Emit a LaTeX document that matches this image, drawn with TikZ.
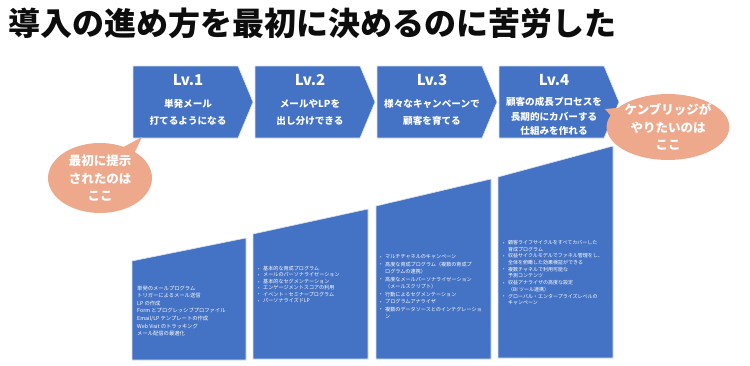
\documentclass[tikz,border=0pt]{standalone}
\usepackage{fontspec}
\setmainfont{Noto Sans CJK JP}
\usetikzlibrary{positioning,calc,shapes.callouts}
\definecolor{lvblue}{HTML}{4472C4}
\definecolor{bubble}{HTML}{EEA98D}
\definecolor{ink}{HTML}{0D0D0D}
\newcommand{\bul}{\makebox[5pt][l]{\raisebox{0.3pt}{\scalebox{0.8}{•}}}}
\newcommand{\cnt}{\hspace*{5pt}}
\tikzset{
  lvshape/.style={fill=lvblue,draw=white!80!lvblue,line width=0.6pt},
  stepfill/.style={fill=lvblue,draw=white!80!lvblue,line width=0.6pt},
  lvtag/.style={text=white,font=\fontsize{15}{15}\selectfont\bfseries,inner sep=0pt},
  lvtext/.style={text=white,align=center,inner sep=0pt,
    font=\fontsize{9.6}{17}\selectfont\bfseries},
  itemlist/.style={text=white,align=left,anchor=north west,inner sep=0pt,
    font=\fontsize{5.1}{7}\selectfont},
  bubble/.style={ellipse callout,fill=bubble,text=white,align=center,inner sep=0pt,
    font=\fontsize{12.5}{17.5}\selectfont\bfseries}
}
\begin{document}
\begin{tikzpicture}[x=1pt,y=-1pt]
 \useasboundingbox[fill=white] (0,0) rectangle (750,365);
 \node[anchor=north west,inner sep=0pt,text=ink,font=\fontsize{32}{32}\selectfont\bfseries] (title) at (8,8) {導入の進め方を最初に決めるのに苦労した};
 % level chevrons
 \fill[lvshape] (133,66) -- ++(105,0) -- ++(15,36) -- ++(-15,36) -- ++(-105,0) -- cycle;
 \fill[lvshape] (255,66) -- ++(105,0) -- ++(15,36) -- ++(-15,36) -- ++(-105,0) -- cycle;
 \fill[lvshape] (377,66) -- ++(105,0) -- ++(15,36) -- ++(-15,36) -- ++(-105,0) -- cycle;
 \fill[lvshape] (499,66) -- ++(105,0) -- ++(15,36) -- ++(-15,36) -- ++(-105,0) -- cycle;
 \node[lvtag] (lv1) at (188,80) {Lv.1};
 \node[lvtag] (lv2) at (310,80) {Lv.2};
 \node[lvtag] (lv3) at (432,80) {Lv.3};
 \node[lvtag] (lv4) at (554,80) {Lv.4};
 \node[lvtext] (lv1t) at (188,112) {単発メール\\打てるようになる};
 \node[lvtext] (lv2t) at (310,112) {メールやLPを\\出し分けできる};
 \node[lvtext] (lv3t) at (432,112) {様々なキャンペーンで\\顧客を育てる};
 \node[lvtext,font=\fontsize{9.6}{14.5}\selectfont\bfseries] (lv4t) at (554,116.5) {顧客の成長プロセスを\\長期的にカバーする\\仕組みを作れる};
 % rising steps
 \fill[stepfill] (132,261) -- (246,238) -- (246,360) -- (132,360) -- cycle;
 \fill[stepfill] (253,234) -- (368,209) -- (368,359) -- (253,359) -- cycle;
 \fill[stepfill] (376,206) -- (491,179) -- (491,359) -- (376,359) -- cycle;
 \fill[stepfill] (498,177) -- (613,146) -- (613,358) -- (498,358) -- cycle;
 \node[itemlist,font=\fontsize{5.3}{7.6}\selectfont] (list1) at (137,285.5) {単発のメールプログラム\\トリガーによるメール送信\\LP の作成\\Form とプログレッシブプロファイル\\Email/LP テンプレートの作成\\Web Visit のトラッキング\\メール配信の最適化};
 \node[itemlist,font=\fontsize{5.1}{6.4}\selectfont] (list2) at (258,266) {\bul 基本的な育成プログラム\\\bul メールのパーソナライゼーション\\\bul 基本的なセグメンテーション\\\bul エンゲージメントスコアの利用\\\bul イベント・セミナープログラム\\\bul パーソナライズドLP};
 \node[itemlist,font=\fontsize{5.1}{7.5}\selectfont] (list3) at (380,254.5) {\bul マルチチャネルのキャンペーン\\\bul 高度な育成プログラム（複数の育成プ\\\cnt ログラムの連携）\\\bul 高度なメールパーソナライゼーション\\\cnt （メールスクリプト）\\\bul 行動によるセグメンテーション\\\bul プログラムアナライザ\\\bul 複数のデータソースとのインテグレーショ\\\cnt ン};
 \node[itemlist,font=\fontsize{5}{6.7}\selectfont] (list4) at (503,240) {\bul 顧客ライフサイクルをすべてカバーした\\\cnt 育成プログラム\\\bul 収益サイクルモデルでファネル管理をし、\\\cnt 全体を俯瞰した効果検証ができる\\\bul 複数チャネルで利用可能な\\\cnt 予測コンテンツ\\\bul 収益アナライザの高度な設定\\\cnt （BI ツール連携）\\\bul グローバル・エンタープライズレベルの\\\cnt キャンペーン};
 % callouts
 \coordinate (lv1foot) at (142,137);
 \coordinate (lv4tip) at (605,109);
 \node[bubble,minimum width=104pt,minimum height=70pt,callout absolute pointer={(lv1foot)}] (first) at (100,178) {最初に提示\\されたのは\\ここ};
 \node[bubble,minimum width=120pt,minimum height=64pt,callout absolute pointer={(lv4tip)}] (goal) at (668,127) {ケンブリッジが\\やりたいのは\\ここ};
\end{tikzpicture}
\end{document}
